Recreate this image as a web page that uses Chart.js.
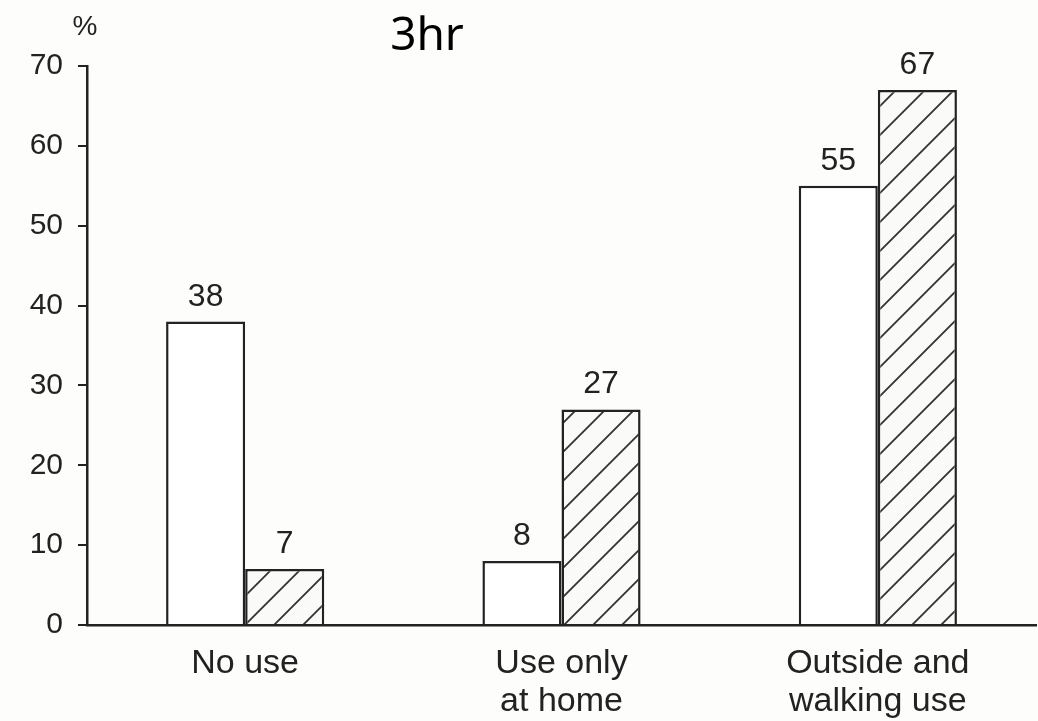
<!DOCTYPE html>
<html>
<head>
<meta charset="utf-8">
<script src="https://cdn.jsdelivr.net/npm/chart.js@4.4.1/dist/chart.umd.min.js"></script>
<style>
  body { margin: 0; background: #fdfdfb; }
  #wrap { width: 1038px; height: 721px; }
</style>
</head>
<body>
<div id="wrap"><canvas id="grafica"></canvas></div>
<script>
const categorias = [['No use'], ['Use only', 'at home'], ['Outside and', 'walking use']];
const serieBlanca = [38, 8, 55];
const serieRayada = [7, 27, 67];
const ticksY = [0, 10, 20, 30, 40, 50, 60, 70];
const titulo = '3hr';
const unidad = '%';

const tinta = '#222';
const fuente = "'Liberation Sans', Arial, sans-serif";

// patron de rayas diagonales
function rayado() {
    const s = 29;
    const c = document.createElement('canvas');
    c.width = s; c.height = s;
    const g = c.getContext('2d');
    g.fillStyle = '#fafaf8';
    g.fillRect(0, 0, s, s);
    g.strokeStyle = '#333';
    g.lineWidth = 1.8;
    g.beginPath();
    g.moveTo(-2, s + 2); g.lineTo(s + 2, -2);
    g.moveTo(-2, 2); g.lineTo(2, -2);
    g.moveTo(s - 2, s + 2); g.lineTo(s + 2, s - 2);
    g.stroke();
    return g.createPattern(c, 'repeat');
}

const etiquetas = {
    id: 'etiquetas',
    afterDatasetsDraw(chart) {
        const ctx = chart.ctx;
        ctx.save();
        ctx.fillStyle = tinta;
        ctx.font = '32px ' + fuente;
        ctx.textAlign = 'center';
        ctx.textBaseline = 'alphabetic';
        chart.data.datasets.forEach((ds, i) => {
            chart.getDatasetMeta(i).data.forEach((bar, j) => {
                ctx.fillText(ds.data[j], bar.x, bar.y - 16);
            });
        });
        // titulo y unidad
        ctx.fillStyle = '#000';
        ctx.font = "46px 'Noto Sans', sans-serif";
        ctx.fillText(titulo, 427, 50);
        ctx.fillStyle = tinta;
        ctx.font = '28px ' + fuente;
        ctx.fillText(unidad, 85, 35);
        ctx.restore();
    }
};

const data = {
    labels: categorias,
    datasets: [{
        label: 'A',
        data: serieBlanca,
        backgroundColor: '#ffffff',
        borderColor: tinta,
        borderWidth: 2.5,
        borderSkipped: 'bottom'
    }, {
        label: 'B',
        data: serieRayada,
        backgroundColor: rayado(),
        borderColor: tinta,
        borderWidth: 2.5,
        borderSkipped: 'bottom'
    }]
};

const config = {
    type: 'bar',
    data: data,
    plugins: [etiquetas],
    options: {
        responsive: true,
        maintainAspectRatio: false,
        animation: false,
        layout: { padding: { top: 66, right: 2, left: 0, bottom: 0 } },
        categoryPercentage: 0.5,
        barPercentage: 1.0,
        plugins: {
            legend: { display: false },
            tooltip: { enabled: false }
        },
        scales: {
            x: {
                grid: { display: false },
                border: { display: true, color: tinta, width: 2.5 },
                ticks: {
                    color: tinta,
                    padding: 12,
                    maxRotation: 0,
                    font: { family: fuente, size: 34, lineHeight: 1.12 }
                },
                afterFit(scale) { scale.height = 96; }
            },
            y: {
                min: 0,
                max: 70,
                afterBuildTicks(scale) { scale.ticks = ticksY.map(v => ({ value: v })); },
                grid: {
                    display: true,
                    drawOnChartArea: false,
                    drawTicks: true,
                    tickLength: 9,
                    color: tinta,
                    lineWidth: 2
                },
                border: { display: true, color: tinta, width: 2.5 },
                ticks: {
                    color: tinta,
                    padding: 15,
                    font: { family: fuente, size: 30 }
                },
                afterFit(scale) { scale.width = 87; }
            }
        }
    }
};

const ctx = document.querySelector('#grafica');
const grafica = new Chart(ctx, config);
</script>
</body>
</html>
